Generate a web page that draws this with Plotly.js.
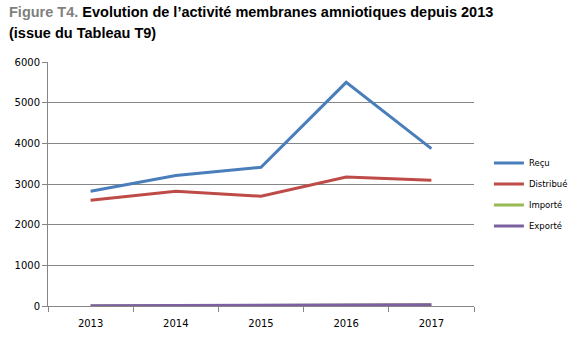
<!DOCTYPE html>
<html>
<head>
<meta charset="utf-8">
<script src="https://cdn.plot.ly/plotly-3.0.1.min.js"></script>
<style>html,body{margin:0;padding:0;background:#fff;}#chart{width:575px;height:340px;}</style>
</head>
<body>
<div id="chart"></div>
<script>
var years = ["2013", "2014", "2015", "2016", "2017"];
var recu = [2820, 3210, 3410, 5500, 3870];
var distribue = [2600, 2820, 2700, 3170, 3090];
var importe = [0, 10, 20, 30, 30];
var exporte = [5, 10, 30, 30, 30];
var seriesNames = ["Reçu", "Distribué", "Importé", "Exporté"];
var seriesColors = ["#4a7ebb", "#be4b48", "#98b954", "#7d60a0"];
var yTicks = [0, 1000, 2000, 3000, 4000, 5000, 6000];

var data = [recu, distribue, importe, exporte].map(function (vals, i) {
  return {
    x: years, y: vals, type: "scatter", mode: "lines",
    name: seriesNames[i], legendgroup: "g" + i,
    line: {color: seriesColors[i], width: 3}
  };
});

var titleFont = {family: "Liberation Sans, Arial, sans-serif", size: 14.5, color: "#000", weight: "bold"};

var layout = {
  width: 575, height: 340,
  margin: {l: 48, r: 101, t: 62, b: 34, autoexpand: false},
  paper_bgcolor: "#fff", plot_bgcolor: "#fff",
  font: {family: "Liberation Sans, Arial, sans-serif", size: 11, color: "#000"},
  annotations: [
    {text: "<span style='color:#7f7f7f'>Figure T4.</span> Evolution de l’activité membranes amniotiques depuis 2013",
     xref: "paper", yref: "paper", x: -0.096, y: 1.205, xanchor: "left", yanchor: "middle",
     showarrow: false, font: titleFont},
    {text: "(issue du Tableau T9)",
     xref: "paper", yref: "paper", x: -0.096, y: 1.119, xanchor: "left", yanchor: "middle",
     showarrow: false, font: titleFont}
  ],
  xaxis: {
    type: "category",
    range: [-0.5, 4.5],
    tickson: "boundaries",
    ticks: "outside", ticklen: 5, tickcolor: "#868686",
    ticklabelstandoff: 8,
    showline: true, linecolor: "#868686", linewidth: 1,
    showgrid: false, zeroline: false,
    tickfont: {family: "DejaVu Sans, Verdana, sans-serif", size: 10, color: "#000"},
    fixedrange: true
  },
  yaxis: {
    range: [0, 6000],
    tickvals: yTicks, ticktext: yTicks.map(String),
    ticks: "outside", ticklen: 5, tickcolor: "#868686",
    showline: true, linecolor: "#868686", linewidth: 1,
    showgrid: true, gridcolor: "#868686", gridwidth: 1,
    zeroline: false,
    tickfont: {family: "DejaVu Sans, Verdana, sans-serif", size: 10, color: "#000"},
    fixedrange: true
  },
  showlegend: true,
  legend: {
    x: 1.035, xanchor: "left", y: 0.645, yanchor: "top",
    font: {family: "DejaVu Sans, Verdana, sans-serif", size: 8.5, color: "#000"},
    traceorder: "grouped", tracegroupgap: 2, itemwidth: 30,
    bgcolor: "rgba(0,0,0,0)"
  }
};

Plotly.newPlot("chart", data, layout, {displayModeBar: false, staticPlot: true});
</script>
</body>
</html>
